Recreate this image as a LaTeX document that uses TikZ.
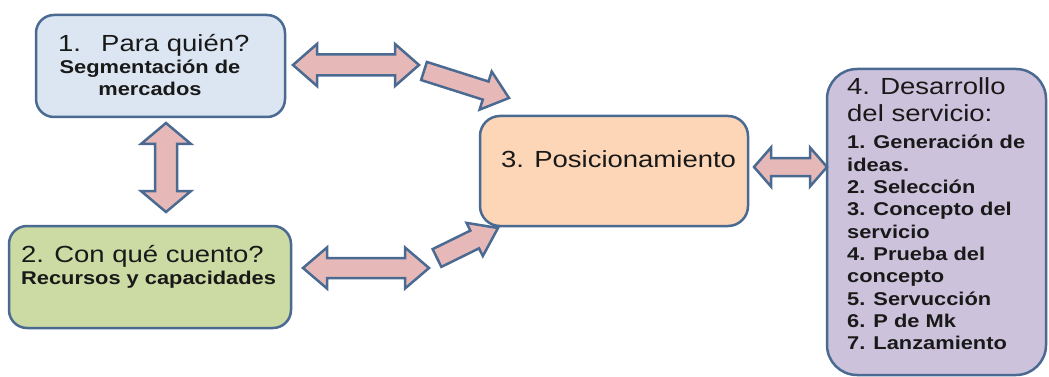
\documentclass[tikz,border=0pt]{standalone}
\usepackage{fontspec}
\setmainfont{Liberation Sans}
\usetikzlibrary{calc}
\definecolor{bordc}{RGB}{74,106,146}
\definecolor{cA}{RGB}{220,230,242}
\definecolor{cB}{RGB}{204,218,164}
\definecolor{cC}{RGB}{252,214,182}
\definecolor{cD}{RGB}{205,194,219}
\definecolor{arrc}{RGB}{230,185,184}
\definecolor{txtc}{RGB}{25,25,25}
\newcommand\hs[1]{\scalebox{1.18}[1]{#1}}
\newcommand\hfont{\fontsize{23.3}{27}\selectfont}
\newcommand\bfontA{\fontsize{18.5}{21.5}\selectfont\bfseries}
\newcommand\bfontB{\fontsize{18.5}{22.3}\selectfont\bfseries}
\newcommand\sarrow[6]{% name, tail, tip, s, h, l
  \coordinate (#1H) at ($(#3)!#6!(#2)$);
  \draw[arrsty] ($(#2)!#4!90:(#3)$) -- ($(#1H)!#4!90:(#3)$) -- ($(#1H)!#5!90:(#3)$) -- (#3)
    -- ($(#1H)!#5!-90:(#3)$) -- ($(#1H)!#4!-90:(#3)$) -- ($(#2)!#4!-90:(#3)$) -- cycle;}
\newcommand\darrow[6]{% name, A, B, s, h, l
  \coordinate (#1P) at ($(#2)!#6!(#3)$);
  \coordinate (#1Q) at ($(#3)!#6!(#2)$);
  \draw[arrsty] (#2) -- ($(#1P)!#5!90:(#3)$) -- ($(#1P)!#4!90:(#3)$) -- ($(#1Q)!#4!-90:(#2)$)
    -- ($(#1Q)!#5!-90:(#2)$) -- (#3) -- ($(#1Q)!#5!90:(#2)$) -- ($(#1Q)!#4!90:(#2)$)
    -- ($(#1P)!#4!-90:(#3)$) -- ($(#1P)!#5!-90:(#3)$) -- cycle;}
\begin{document}
\begin{tikzpicture}[x=1pt,y=-1pt,
  box/.style={draw=bordc, line width=2.5pt, inner sep=0pt},
  arrsty/.style={draw=bordc, fill=arrc, line width=2.5pt, line join=miter},
  txt/.style={anchor=base west, inner sep=0pt, text=txtc}]
\useasboundingbox (0,0) rectangle (1049,377);
\fill[white] (0,0) rectangle (1049,377);
% boxes
\node[box, fill=cA, minimum width=249pt, minimum height=102pt, rounded corners=18pt] (b1) at (160.5,66) {};
\node[box, fill=cB, minimum width=282pt, minimum height=102pt, rounded corners=18pt] (b2) at (150,277) {};
\node[box, fill=cC, minimum width=268pt, minimum height=110pt, rounded corners=20pt] (b3) at (614,171) {};
\node[box, fill=cD, minimum width=219pt, minimum height=306pt, rounded corners=30pt] (b4) at (936.5,222) {};
% texts
\node[txt] (t1a) at (58,52) {\hs{\hfont 1.\hspace*{17pt}Para quién?}};
\node[anchor=base, inner sep=0pt, text=txtc] (t1b) at (150,74) {\hs{\bfontA\begin{tabular}[t]{@{}c@{}}Segmentación de\\mercados\end{tabular}}};
\node[txt] (t2a) at (21,262) {\hs{\hfont 2. Con qué cuento?}};
\node[txt] (t2b) at (21,284) {\hs{\bfontA Recursos y capacidades}};
\node[txt] (t3) at (501,167) {\hs{\hfont 3. Posicionamiento}};
\node[txt] (t4a) at (847,95) {\hs{\fontsize{23.3}{27}\selectfont\begin{tabular}[t]{@{}l@{}}4. Desarrollo\\del servicio:\end{tabular}}};
\node[txt] (t4b) at (847,149) {\hs{\bfontB\begin{tabular}[t]{@{}l@{}}1. Generación de\\ideas.\\2. Selección\\3. Concepto del\\servicio\\4. Prueba del\\concepto\\5. Servucción\\6. P de Mk\\7. Lanzamiento\end{tabular}}};
% arrow end points
\coordinate (a1s) at (293,65);  \coordinate (a1e) at (419,65);
\coordinate (a2s) at (424,71);  \coordinate (a2e) at (509,98);
\coordinate (a3s) at (166,123); \coordinate (a3e) at (166,212);
\coordinate (a4s) at (303,268); \coordinate (a4e) at (429,268);
\coordinate (a5s) at (437,258); \coordinate (a5e) at (498,228);
\coordinate (a6s) at (754,167); \coordinate (a6e) at (827,167);
\darrow{a1}{a1s}{a1e}{10.5pt}{21pt}{24pt}
\sarrow{a2}{a2s}{a2e}{9.5pt}{20pt}{24.5pt}
\darrow{a3}{a3s}{a3e}{11pt}{25pt}{21pt}
\darrow{a4}{a4s}{a4e}{10pt}{20.5pt}{24pt}
\sarrow{a5}{a5s}{a5e}{9.9pt}{18.5pt}{26pt}
\darrow{a6}{a6s}{a6e}{9pt}{19.5pt}{17pt}
\end{tikzpicture}
\end{document}
